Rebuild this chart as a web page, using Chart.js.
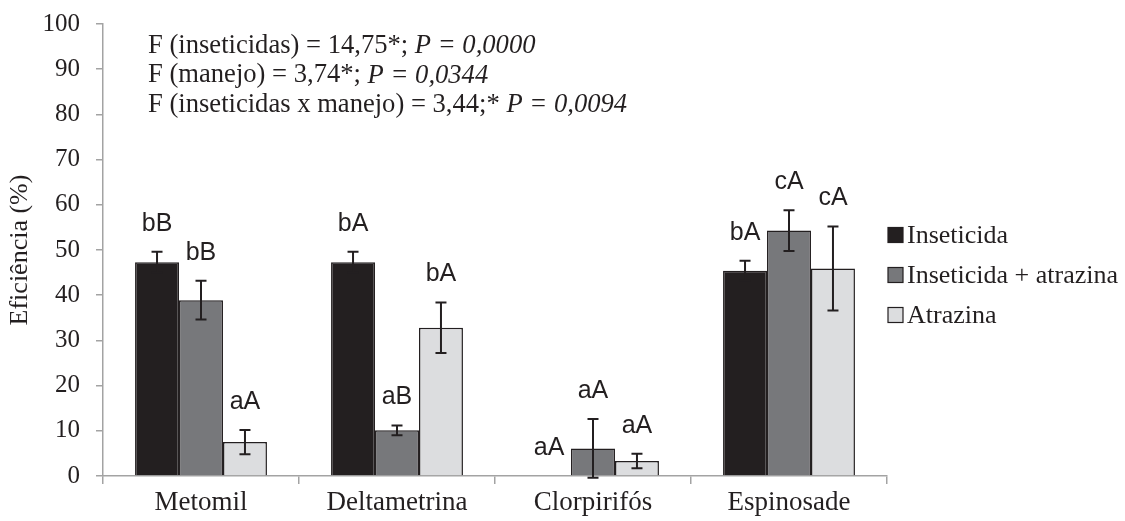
<!DOCTYPE html>
<html lang="pt">
<head>
<meta charset="utf-8">
<title>Eficiência dos inseticidas</title>
<script src="https://cdn.jsdelivr.net/npm/chart.js@4.4.1/dist/chart.umd.min.js"></script>
<style>
    html, body { margin: 0; padding: 0; background: #fff; }
    #wrap { width: 1125px; height: 521px; position: relative; }
</style>
</head>
<body>
<div id="wrap"><canvas id="effChart"></canvas></div>
<script>
// dados
const categories = ['Metomil', 'Deltametrina', 'Clorpirifós', 'Espinosade'];
const seriesNames = ['Inseticida', 'Inseticida + atrazina', 'Atrazina'];

const inseticida = [47.3, 47.3, 0, 45.4];
const inseticidaAtrazina = [38.9, 10.1, 6.1, 54.3];
const atrazina = [7.5, 32.8, 3.3, 45.9];

const errInseticida = [2.3, 2.3, 0, 2.2];
const errInseticidaAtrazina = [4.3, 1.1, 6.5, 4.5];
const errAtrazina = [2.7, 5.6, 1.6, 9.3];

const lettersInseticida = ['bB', 'bA', 'aA', 'bA'];
const lettersInseticidaAtrazina = ['bB', 'aB', 'aA', 'cA'];
const lettersAtrazina = ['aA', 'bA', 'aA', 'cA'];

const yTicks = [0, 10, 20, 30, 40, 50, 60, 70, 80, 90, 100];

const statLines = [
    [['F (inseticidas) = 14,75*; ', false], ['P = 0,0000', true]],
    [['F (manejo) = 3,74*; ', false], ['P = 0,0344', true]],
    [['F (inseticidas x manejo) = 3,44;* ', false], ['P = 0,0094', true]]
];

const barColors = ['#231f20', '#77787b', '#dcdddf'];
const ink = '#231f20';
const axisGray = '#a3a3a3';
const serif = "'Liberation Serif', 'Times New Roman', serif";
const sans = "'Liberation Sans', Arial, sans-serif";

const errors = [errInseticida, errInseticidaAtrazina, errAtrazina];
const letters = [lettersInseticida, lettersInseticidaAtrazina, lettersAtrazina];

// barras de erro + letras de significância
const errorBarsPlugin = {
    id: 'errorBars',
    afterDatasetsDraw(chart) {
        const ctx = chart.ctx;
        const y = chart.scales.y;
        ctx.save();
        chart.data.datasets.forEach((ds, di) => {
            const meta = chart.getDatasetMeta(di);
            meta.data.forEach((bar, i) => {
                const v = ds.data[i];
                const e = errors[di][i];
                const top = y.getPixelForValue(v + e);
                if (e > 0) {
                    const bottom = y.getPixelForValue(v - e);
                    ctx.strokeStyle = ink;
                    ctx.lineWidth = 2;
                    ctx.beginPath();
                    ctx.moveTo(bar.x, top);
                    ctx.lineTo(bar.x, bottom);
                    ctx.moveTo(bar.x - 5.5, top);
                    ctx.lineTo(bar.x + 5.5, top);
                    ctx.moveTo(bar.x - 5.5, bottom);
                    ctx.lineTo(bar.x + 5.5, bottom);
                    ctx.stroke();
                }
                ctx.fillStyle = ink;
                ctx.font = '25px ' + sans;
                ctx.textAlign = 'center';
                ctx.textBaseline = 'alphabetic';
                ctx.fillText(letters[di][i], bar.x, top - 21);
            });
        });
        ctx.restore();
    }
};

// texto com os valores de F e legenda
const annotationPlugin = {
    id: 'annotations',
    afterDraw(chart) {
        const ctx = chart.ctx;
        const area = chart.chartArea;
        ctx.save();
        ctx.fillStyle = ink;
        ctx.textBaseline = 'middle';
        ctx.textAlign = 'left';

        statLines.forEach((parts, li) => {
            let x = area.left + 45;
            const yPos = area.top + 22 + li * 29.5;
            parts.forEach(([txt, italic]) => {
                ctx.font = (italic ? 'italic ' : '') + '26.6px ' + serif;
                ctx.fillText(txt, x, yPos);
                x += ctx.measureText(txt).width;
            });
        });

        // legenda
        chart.data.datasets.forEach((ds, i) => {
            const lx = area.right + 1;
            const ly = area.top + 211 + i * 40;
            ctx.fillStyle = ds.backgroundColor;
            ctx.fillRect(lx, ly - 7.5, 15, 15);
            ctx.strokeStyle = ink;
            ctx.lineWidth = 1.2;
            ctx.strokeRect(lx, ly - 7.5, 15, 15);
            ctx.fillStyle = ink;
            ctx.font = '26px ' + serif;
            ctx.fillText(ds.label, lx + 19, ly + 1);
        });
        ctx.restore();
    }
};

const datasetValues = [inseticida, inseticidaAtrazina, atrazina];

const chart = new Chart(document.getElementById('effChart').getContext('2d'), {
    type: 'bar',
    data: {
        labels: categories,
        datasets: datasetValues.map((vals, i) => ({
            label: seriesNames[i],
            data: vals,
            backgroundColor: barColors[i],
            borderColor: ink,
            borderWidth: 1.5,
            borderSkipped: 'bottom',
            categoryPercentage: 0.673,
            barPercentage: 1
        }))
    },
    options: {
        responsive: true,
        maintainAspectRatio: false,
        animation: false,
        events: [],
        layout: {
            padding: { left: 4, right: 238, top: 24, bottom: 2 }
        },
        plugins: {
            legend: { display: false },
            tooltip: { enabled: false }
        },
        scales: {
            x: {
                grid: {
                    offset: true,
                    drawOnChartArea: false,
                    tickLength: 8,
                    color: axisGray,
                    lineWidth: 1.5
                },
                border: { color: axisGray, width: 1.5 },
                ticks: {
                    color: ink,
                    padding: 3,
                    font: { family: serif, size: 27 }
                },
                afterFit(scale) { scale.height = 43; }
            },
            y: {
                min: 0,
                max: 100,
                afterBuildTicks(scale) {
                    scale.ticks = yTicks.map(v => ({ value: v }));
                },
                grid: {
                    drawOnChartArea: false,
                    tickLength: 7,
                    color: axisGray,
                    lineWidth: 1.5
                },
                border: { color: axisGray, width: 1.5 },
                ticks: {
                    color: ink,
                    padding: 16,
                    font: { family: serif, size: 25 }
                },
                title: {
                    display: true,
                    text: 'Eficiência (%)',
                    color: ink,
                    font: { family: serif, size: 26 },
                    padding: { top: 1, bottom: 4 }
                },
                afterFit(scale) {
                    scale.width = 99;
                    // a margem do rótulo do topo não deve empurrar a área do gráfico
                    scale.paddingTop = 12;
                    scale.paddingBottom = 12;
                }
            }
        }
    },
    plugins: [errorBarsPlugin, annotationPlugin]
});
</script>
</body>
</html>
